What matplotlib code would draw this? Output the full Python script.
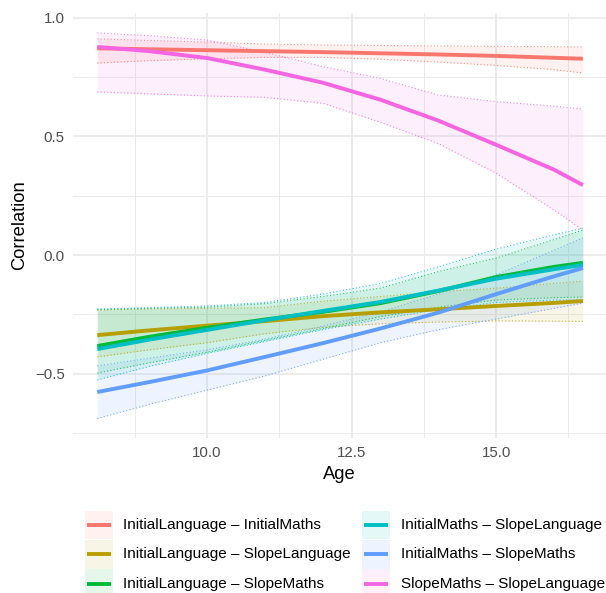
import matplotlib
matplotlib.use('Agg')
import matplotlib.pyplot as plt
from matplotlib.patches import Rectangle
from matplotlib.lines import Line2D

plt.rcParams['font.family'] = ['Liberation Sans', 'DejaVu Sans']

# ---- data ----
ages = [8.1, 9.0, 10.0, 11.0, 12.0, 13.0, 14.0, 15.0, 16.0, 16.5]

labels = [
    "InitialLanguage \u2013 InitialMaths",
    "InitialLanguage \u2013 SlopeLanguage",
    "InitialLanguage \u2013 SlopeMaths",
    "InitialMaths \u2013 SlopeLanguage",
    "InitialMaths \u2013 SlopeMaths",
    "SlopeMaths \u2013 SlopeLanguage",
]
colors = ["#F8766D", "#B79F00", "#00BA38", "#00BFC4", "#619CFF", "#F564E3"]

il_im_est = [0.872, 0.868, 0.864, 0.860, 0.856, 0.851, 0.846, 0.840, 0.832, 0.828]
il_im_lo = [0.810, 0.820, 0.828, 0.834, 0.834, 0.826, 0.814, 0.800, 0.782, 0.768]
il_im_hi = [0.912, 0.905, 0.898, 0.890, 0.886, 0.884, 0.882, 0.880, 0.879, 0.878]

il_sl_est = [-0.338, -0.318, -0.298, -0.279, -0.258, -0.242, -0.229, -0.215, -0.202, -0.194]
il_sl_lo = [-0.430, -0.400, -0.370, -0.332, -0.305, -0.290, -0.283, -0.278, -0.279, -0.280]
il_sl_hi = [-0.232, -0.228, -0.225, -0.222, -0.195, -0.175, -0.155, -0.140, -0.120, -0.110]

il_sm_est = [-0.384, -0.345, -0.307, -0.272, -0.240, -0.203, -0.152, -0.093, -0.050, -0.033]
il_sm_lo = [-0.498, -0.455, -0.410, -0.360, -0.310, -0.260, -0.220, -0.190, -0.180, -0.177]
il_sm_hi = [-0.230, -0.225, -0.220, -0.205, -0.175, -0.140, -0.070, -0.013, 0.065, 0.105]

im_sl_est = [-0.397, -0.357, -0.316, -0.275, -0.236, -0.198, -0.150, -0.100, -0.060, -0.042]
im_sl_lo = [-0.527, -0.470, -0.415, -0.365, -0.315, -0.270, -0.230, -0.200, -0.190, -0.190]
im_sl_hi = [-0.228, -0.222, -0.215, -0.200, -0.165, -0.120, -0.050, 0.025, 0.085, 0.113]

im_sm_est = [-0.578, -0.536, -0.487, -0.430, -0.372, -0.310, -0.243, -0.165, -0.090, -0.055]
im_sm_lo = [-0.690, -0.630, -0.570, -0.510, -0.440, -0.370, -0.315, -0.270, -0.225, -0.203]
im_sm_hi = [-0.468, -0.435, -0.400, -0.355, -0.300, -0.240, -0.165, -0.084, 0.020, 0.072]

sm_sl_est = [0.878, 0.860, 0.831, 0.782, 0.727, 0.655, 0.567, 0.465, 0.360, 0.295]
sm_sl_lo = [0.688, 0.680, 0.671, 0.665, 0.640, 0.560, 0.470, 0.345, 0.190, 0.105]
sm_sl_hi = [0.937, 0.925, 0.907, 0.855, 0.795, 0.745, 0.675, 0.647, 0.628, 0.616]

estimates = [il_im_est, il_sl_est, il_sm_est, im_sl_est, im_sm_est, sm_sl_est]
lowers = [il_im_lo, il_sl_lo, il_sm_lo, im_sl_lo, im_sm_lo, sm_sl_lo]
uppers = [il_im_hi, il_sl_hi, il_sm_hi, im_sl_hi, im_sm_hi, sm_sl_hi]

x_major = [10.0, 12.5, 15.0]
x_minor = [8.75, 11.25, 13.75, 16.25]
y_major = [-0.5, 0.0, 0.5, 1.0]
y_minor = [-0.75, -0.25, 0.25, 0.75]

# ---- figure ----
W, H = 606, 593
fig = plt.figure(figsize=(W / 100, H / 100), dpi=100)
ax = fig.add_axes([73 / W, 155 / H, 533 / W, 425 / H])

ax.set_xlim(7.68, 16.90)
ax.set_ylim(-0.772, 1.021)

ax.set_xticks(x_major)
ax.set_xticks(x_minor, minor=True)
ax.set_yticks(y_major)
ax.set_yticks(y_minor, minor=True)
ax.set_xticklabels(["10.0", "12.5", "15.0"])
ax.set_yticklabels(["\u22120.5", "0.0", "0.5", "1.0"])

ax.grid(which='major', color='#EBEBEB', lw=1.3)
ax.grid(which='minor', color='#EBEBEB', lw=0.7)
ax.set_axisbelow(True)
for s in ax.spines.values():
    s.set_visible(False)
ax.tick_params(which='both', length=0)
ax.tick_params(axis='x', pad=6, labelsize=10.8, labelcolor='#4D4D4D')
ax.tick_params(axis='y', pad=6, labelsize=10.8, labelcolor='#4D4D4D')

for lo, hi, c in zip(lowers, uppers, colors):
    ax.fill_between(ages, lo, hi, color=c, alpha=0.1, lw=0)
    ax.plot(ages, lo, color=c, lw=0.8, ls=(0, (1, 2)), alpha=0.8)
    ax.plot(ages, hi, color=c, lw=0.8, ls=(0, (1, 2)), alpha=0.8)

for est, c in zip(estimates, colors):
    ax.plot(ages, est, color=c, lw=2.8, solid_capstyle='butt')

ax.set_xlabel("Age", fontsize=13.2, labelpad=4)
ax.set_ylabel("Correlation", fontsize=13.2, labelpad=5)

# ---- legend (drawn in figure pixel coordinates) ----
def fx(px):
    return px / W

def fy(py):
    return 1 - py / H

key_w, key_h, pitch = 27.7, 28.6, 29.3
col_x = [85.0, 362.4]
top_y = 510.7
for i, (lab, c) in enumerate(zip(labels, colors)):
    col, row = i // 3, i % 3
    x0 = col_x[col]
    y0 = top_y + row * pitch
    fig.add_artist(Rectangle((fx(x0), fy(y0 + key_h)), key_w / W, key_h / H,
                             transform=fig.transFigure, facecolor=c, alpha=0.1,
                             edgecolor='none'))
    yc = y0 + key_h / 2
    fig.add_artist(Line2D([fx(x0 + 2), fx(x0 + key_w - 2)], [fy(yc), fy(yc)],
                          transform=fig.transFigure, color=c, lw=2.8,
                          solid_capstyle='butt'))
    fig.text(fx(x0 + 38.4), fy(yc), lab, fontsize=11, color='black',
             ha='left', va='center')

fig.savefig("out.png", dpi=100)
